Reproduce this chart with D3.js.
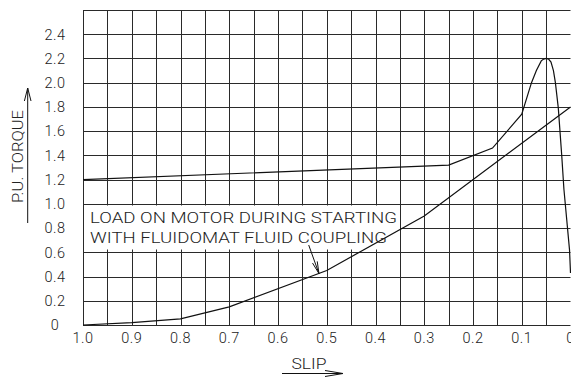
<!DOCTYPE html>
<html>
<head>
<meta charset="utf-8">
<script src="https://cdn.jsdelivr.net/npm/d3@7"></script>
<style>
  html, body { margin: 0; padding: 0; background: #fff; }
  svg { display: block; }
  text { font-family: Roboto, "DejaVu Sans", sans-serif; font-weight: 300; fill: #222; }
</style>
</head>
<body>
<div id="chart"></div>
<script>
// slip axis runs from 1.0 (left) to 0 (right)
const slipTicks = [1.0, 0.9, 0.8, 0.7, 0.6, 0.5, 0.4, 0.3, 0.2, 0.1, 0];
const slipTickLabels = ["1.0", "0.9", "0.8", "0.7", "0.6", "0.5", "0.4", "0.3", "0.2", "0.1", "0"];
const torqueTicks = [0, 0.2, 0.4, 0.6, 0.8, 1.0, 1.2, 1.4, 1.6, 1.8, 2.0, 2.2, 2.4];
const torqueTickLabels = ["0", "0.2", "0.4", "0.6", "0.8", "1.0", "1.2", "1.4", "1.6", "1.8", "2.0", "2.2", "2.4"];

// motor torque-slip curve
const motorSlip = [1.0, 0.25, 0.16, 0.10, 0.08, 0.07, 0.06, 0.055, 0.05, 0.045, 0.04, 0.035, 0.031, 0.025, 0.018, 0.0135, 0.002, 0];
const motorTorque = [1.20, 1.32, 1.46, 1.74, 2.00, 2.10, 2.18, 2.195, 2.20, 2.195, 2.17, 2.10, 2.00, 1.79, 1.40, 1.12, 0.62, 0.43];

// load on motor with fluid coupling
const loadSlip = [1.0, 0.9, 0.8, 0.7, 0.5, 0.3, 0];
const loadTorque = [0, 0.02, 0.05, 0.15, 0.45, 0.9, 1.8];

const noteLines = ["LOAD ON MOTOR DURING STARTING", "WITH FLUIDOMAT FLUID COUPLING"];

const width = 571, height = 380;
const margin = { top: 10, right: 0.5, bottom: 55, left: 83 };

const svg = d3.select("#chart").append("svg")
	.attr("width", width)
	.attr("height", height);

const x = d3.scaleLinear().domain([1.0, 0]).range([margin.left, width - margin.right]);
const y = d3.scaleLinear().domain([0, 2.6]).range([height - margin.bottom, margin.top]);

// grid: every 0.05 slip, every 0.2 torque
const grid = svg.append("g").attr("stroke", "#2a2a2a").attr("stroke-width", 1);
d3.range(0, 21).forEach(i => {
	const xv = Math.round(x(i * 0.05)) + 0.5;
	grid.append("line").attr("x1", xv).attr("x2", xv).attr("y1", y(0)).attr("y2", y(2.6));
});
d3.range(0, 14).forEach(i => {
	const yv = Math.round(y(i * 0.2)) + 0.5;
	grid.append("line").attr("x1", x(1)).attr("x2", x(0)).attr("y1", yv).attr("y2", yv);
});

// white area behind the note
svg.append("rect")
	.attr("x", Math.round(x(1)) + 1)
	.attr("y", Math.round(y(1.0)) + 1.5)
	.attr("width", Math.round(x(0.35)) - Math.round(x(1)) - 1)
	.attr("height", Math.round(y(0.6)) - Math.round(y(1.0)) - 4)
	.attr("fill", "#fff");

// tick labels
svg.append("g").selectAll("text")
	.data(slipTicks)
	.join("text")
	.attr("x", d => x(d))
	.attr("y", y(0) + 18)
	.attr("text-anchor", "middle")
	.style("font-size", "14.5px")
	.style("letter-spacing", "0.5px")
	.text((d, i) => slipTickLabels[i]);

svg.append("g").selectAll("text")
	.data(torqueTicks)
	.join("text")
	.attr("x", 55)
	.attr("y", d => y(d) + 5.3)
	.attr("text-anchor", "middle")
	.style("font-size", "14.5px")
	.style("letter-spacing", "0.5px")
	.text((d, i) => torqueTickLabels[i]);

// curves
const line = d3.line().x(d => x(d[0])).y(d => y(d[1]));
svg.append("path")
	.datum(motorSlip.map((s, i) => [s, motorTorque[i]]))
	.attr("d", line)
	.attr("fill", "none")
	.attr("stroke", "#111")
	.attr("stroke-width", 1.2);
svg.append("path")
	.datum(loadSlip.map((s, i) => [s, loadTorque[i]]))
	.attr("d", line)
	.attr("fill", "none")
	.attr("stroke", "#111")
	.attr("stroke-width", 1.2);

// note text
noteLines.forEach((t, i) => {
	svg.append("text")
		.attr("x", 90)
		.attr("y", 222.5 + i * 20)
		.attr("textLength", i === 0 ? 307 : 297)
		.attr("lengthAdjust", "spacingAndGlyphs")
		.style("font-size", "14.5px")
		.text(t);
});

// arrow from note to load curve
function arrow(x0, y0, x1, y1, len, half) {
	const a = Math.atan2(y1 - y0, x1 - x0);
	const bx = x1 - len * Math.cos(a), by = y1 - len * Math.sin(a);
	const px = -Math.sin(a) * half, py = Math.cos(a) * half;
	const g = svg.append("g").attr("stroke", "#111").attr("stroke-width", 1).attr("fill", "none");
	g.append("line").attr("x1", x0).attr("y1", y0).attr("x2", x1).attr("y2", y1);
	g.append("path").attr("d", `M${bx + px},${by + py}L${x1},${y1}L${bx - px},${by - py}`);
}
arrow(x(0.537), y(0.66), x(0.516), y(0.425), 12, 2.5);

// axis titles with underline arrows
svg.append("text")
	.attr("transform", `translate(23.3,${156.5}) rotate(-90)`)
	.attr("text-anchor", "middle")
	.attr("textLength", 93)
	.attr("lengthAdjust", "spacingAndGlyphs")
	.style("font-size", "14.5px")
	.text("P.U. TORQUE");
arrow(27.7, 223, 27.7, 88, 13, 3.3);

svg.append("text")
	.attr("x", 309)
	.attr("y", 368.5)
	.attr("text-anchor", "middle")
	.attr("textLength", 35)
	.attr("lengthAdjust", "spacingAndGlyphs")
	.style("font-size", "14.5px")
	.text("SLIP");
arrow(282, 373.5, 343, 373.5, 18, 3);
</script>
</body>
</html>
